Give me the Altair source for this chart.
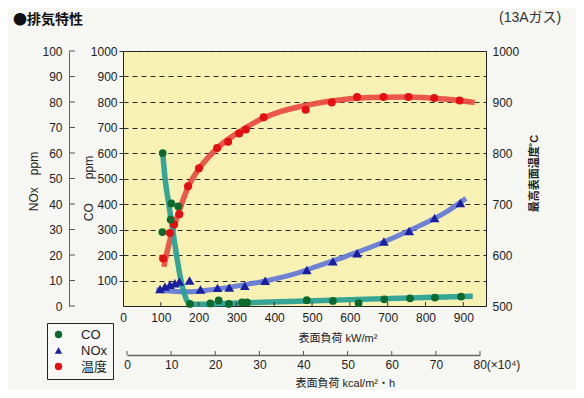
import altair as alt
import pandas as pd

# ---------------- data ----------------
# CO (ppm, left inner axis)
co_x = [105, 104, 126, 128, 146, 177, 231, 253, 280, 315, 328, 486, 555, 623, 691, 759, 825, 894]
co_y = [600, 290, 339, 402, 391, 8, 10, 22, 8, 14, 14, 23, 20, 11, 26, 30, 33, 37]
co_line_x = [105, 112, 120, 130, 142, 152, 162, 172, 185, 250, 414, 600, 800, 925]
co_line_y = [600, 490, 410, 310, 195, 110, 50, 14, 7, 9, 17, 25, 33, 38]

# NOx (ppm, left outer axis)
nox_x = [98, 111, 124, 137, 149, 176, 205, 250, 281, 322, 376, 486, 555, 619, 690, 757, 824, 892]
nox_y = [6.7, 7.6, 8.3, 8.9, 9.6, 10.0, 6.5, 7.1, 7.2, 7.9, 9.9, 14.1, 17.5, 20.7, 25.3, 29.4, 34.5, 40.4]
nox_line_x = [88, 130, 177, 221, 282, 379, 467, 502, 590, 678, 766, 854, 907]
nox_line_y = [6.3, 5.8, 5.6, 6.2, 7.4, 9.9, 13.2, 15.0, 19.5, 24.4, 30.2, 36.8, 42.2]

# temperature (deg C, right axis)
t_x = [106, 124, 135, 149, 172, 201, 249, 278, 307, 325, 372, 483, 552, 619, 689, 755, 823, 890]
t_y = [593, 643, 660, 680, 735, 770, 810, 822, 838, 846, 870, 885, 899, 910, 910, 910, 908, 903]
t_line_x = [108, 125, 140, 155, 172, 200, 250, 300, 370, 420, 480, 550, 650, 750, 850, 930]
t_line_y = [577, 632, 668, 700, 733, 768, 810, 838, 868, 882, 893, 902, 909, 910, 906, 899]

kw_ticks = [100, 200, 300, 400, 500, 600, 700, 800, 900]
kcal_ticks = [0, 10, 20, 30, 40, 50, 60, 70, 80]
nox_ticks = [0, 10, 20, 30, 40, 50, 60, 70, 80, 90, 100]
series = ["CO", "NOx", "温度"]

# ---------------- styling ----------------
FONT = "Liberation Sans, Noto Sans CJK JP, sans-serif"
CJK = "Noto Sans CJK JP, sans-serif"
W, H = 363, 255
X_MAX = 960
PL, PT = 115, 43
PR = 568 - PL - W
PB = 382 - PT - H

GREEN, NAVY, RED = "#0c6a2c", "#1a1f9e", "#e30f12"
TEAL, PERI, LRED = "#2aa096", "#5f74d8", "#e8463f"

xs = alt.Scale(domain=[0, X_MAX], nice=False)


def X(axis=None):
    return alt.X("x:Q", scale=xs, axis=axis)


def Yq(dom, axis=None, field="v"):
    return alt.Y(f"{field}:Q", scale=alt.Scale(domain=dom, nice=False, zero=False), axis=axis)


color = alt.Color("s:N", scale=alt.Scale(domain=series, range=[GREEN, NAVY, RED]),
                  legend=alt.Legend(title=None))
shape = alt.Shape("s:N", scale=alt.Scale(domain=series, range=["circle", "triangle-up", "circle"]),
                  legend=alt.Legend(title=None))

co_pts = pd.DataFrame({"x": co_x, "v": co_y, "s": "CO"})
nox_pts = pd.DataFrame({"x": nox_x, "v": nox_y, "s": "NOx"})
t_pts = pd.DataFrame({"x": t_x, "v": t_y, "s": "温度"})
co_ln = pd.DataFrame({"x": co_line_x, "v": co_line_y})
nox_ln = pd.DataFrame({"x": nox_line_x, "v": nox_line_y})
t_ln = pd.DataFrame({"x": t_line_x, "v": t_line_y})

co_axis = alt.Axis(orient="left", values=list(range(100, 1001, 100)), format="d", grid=True,
                   gridDash=[5, 4], gridColor="#2a2a2a", gridWidth=1.1, domain=False,
                   tickSize=4, tickColor="#333", labelPadding=2, labelFontSize=12,
                   labelColor="#222", title="CO\u3000\u3000ppm", titleAngle=270, titleX=-35,
                   titleY=137, titleAlign="center", titleBaseline="middle",
                   titleFontWeight="normal", titleFontSize=12, titleColor="#222")
x_axis = alt.Axis(orient="bottom", values=[0] + kw_ticks, format="d", ticks=False, domain=False,
                  labelPadding=6, labelFontSize=12, labelColor="#222", labelFlush=False,
                  title="表面負荷 kW/m²", titleAlign="left", titleX=175, titleY=32,
                  titleBaseline="middle", titleFontSize=11, titleFontWeight="normal",
                  titleColor="#222")
nox_axis = alt.Axis(orient="left", offset=54, values=nox_ticks, grid=False, domain=True,
                    domainColor="#666", ticks=False, labelPadding=7, labelFontSize=12,
                    labelColor="#222", title="NOx\u3000ppm", titleAngle=270, titleX=-36,
                    titleY=130, titleAlign="center", titleBaseline="middle",
                    titleFontWeight="normal", titleFontSize=12, titleColor="#222")
t_axis = alt.Axis(orient="right", values=[500, 600, 700, 800, 900, 1000], format="d", grid=False,
                  domain=False, ticks=False, labelPadding=6, labelFontSize=12,
                  labelColor="#222", title="最高表面温度˚C", titleAngle=270, titleX=48,
                  titleY=122, titleAlign="center", titleBaseline="middle",
                  titleFontWeight="bold", titleFontSize=11, titleColor="#222")
kcal_axis = alt.Axis(orient="bottom", offset=49, values=kcal_ticks, ticks=False,
                     domain=True, domainColor="#666", domainWidth=1.5, labelPadding=4,
                     labelFontSize=12, labelColor="#222", labelFlush=False,
                     labelOverlap=False,
                     labelExpr="datum.value == 80 ? '80(×10⁴)' : datum.label",
                     labelAlign={"condition": {"test": "datum.value == 80", "value": "left"},
                                 "value": "center"},
                     labelOffset={"condition": {"test": "datum.value == 80", "value": -7},
                                  "value": 0},
                     title="表面負荷 kcal/m²・h", titleAlign="left", titleX=172, titleY=28,
                     titleBaseline="middle", titleFontSize=11, titleFontWeight="normal",
                     titleColor="#222")

# lines
t_line = alt.Chart(t_ln).mark_line(color=LRED, strokeWidth=5.5, interpolate="monotone",
                                   opacity=0.9).encode(x=X(), y=Yq([500, 1000], t_axis))
nox_line = alt.Chart(nox_ln).mark_line(color=PERI, strokeWidth=5, interpolate="monotone",
                                       opacity=0.9).encode(x=X(), y=Yq([0, 100], nox_axis))
co_line = alt.Chart(co_ln).mark_line(color=TEAL, strokeWidth=5.5, interpolate="monotone",
                                     opacity=0.95).encode(x=X(x_axis), y=Yq([0, 1000], co_axis))

# points
nox_p = alt.Chart(nox_pts).mark_point(filled=True, size=95, opacity=1).encode(
    x=X(), y=Yq([0, 100]), color=color, shape=shape)
t_p = alt.Chart(t_pts).mark_point(filled=True, size=64, opacity=1).encode(
    x=X(), y=Yq([500, 1000]), color=color, shape=shape)
co_p = alt.Chart(co_pts).mark_point(filled=True, size=60, opacity=1).encode(
    x=X(), y=Yq([0, 1000]), color=color, shape=shape)

# inward ticks of the kW axis
kw_tick = alt.Chart(pd.DataFrame({"x": kw_ticks})).mark_rule(color="#333").encode(
    x=X(), y=alt.value(H), y2=alt.value(H - 4))
# NOx ticks (pointing right)
nox_tick = alt.Chart(pd.DataFrame({"v": nox_ticks})).mark_rule(color="#555").encode(
    y=Yq([0, 100]), x=alt.value(-54), x2=alt.value(-48))
# second x axis (kcal) with upward ticks
kcal_scale = alt.Scale(domain=[0, 80], range=[4, 357], nice=False)
kcal = alt.Chart(pd.DataFrame({"k": kcal_ticks})).mark_rule(color="#555").encode(
    x=alt.X("k:Q", scale=kcal_scale, axis=kcal_axis),
    y=alt.value(H + 45), y2=alt.value(H + 49))
# legend divider
divider = alt.Chart(pd.DataFrame({"a": [0]})).mark_rule(color="#222").encode(
    x=alt.value(-54), y=alt.value(272), y2=alt.value(320))
# header texts
head = alt.Chart(pd.DataFrame({"t": ["●排気特性"]})).mark_text(
    align="left", baseline="middle", fontSize=14, fontWeight="bold", font=CJK,
    color="#111").encode(x=alt.value(-110), y=alt.value(-31), text="t:N")
gas = alt.Chart(pd.DataFrame({"t": ["(13Aガス)"]})).mark_text(
    align="left", baseline="middle", fontSize=14, font=FONT, color="#333").encode(
    x=alt.value(376), y=alt.value(-33), text="t:N")

chart = alt.layer(
    t_line, nox_line, co_line, kw_tick, nox_tick, kcal, nox_p, t_p, co_p, divider, head, gas
).resolve_scale(
    x="independent", y="independent"
).properties(
    width=W, height=H,
    autosize=alt.AutoSizeParams(type="none"),
    padding={"left": PL, "top": PT, "right": PR, "bottom": PB},
    background="#f6f6f3",
).configure_view(
    fill="#f7f1b4", stroke="#222", strokeWidth=1
).configure_axis(
    labelFont=FONT, titleFont=FONT
).configure_legend(
    orient="none", legendX=-76, legendY=272, strokeColor="#222", padding=5,
    labelFont=FONT, labelFontSize=13, labelColor="#222", symbolSize=55,
    rowPadding=2, labelOffset=16, symbolStrokeWidth=0, fillColor="#f8f8f6",
    titlePadding=0
)

chart.save("out.html", embed_options={"renderer": "svg", "actions": False})
